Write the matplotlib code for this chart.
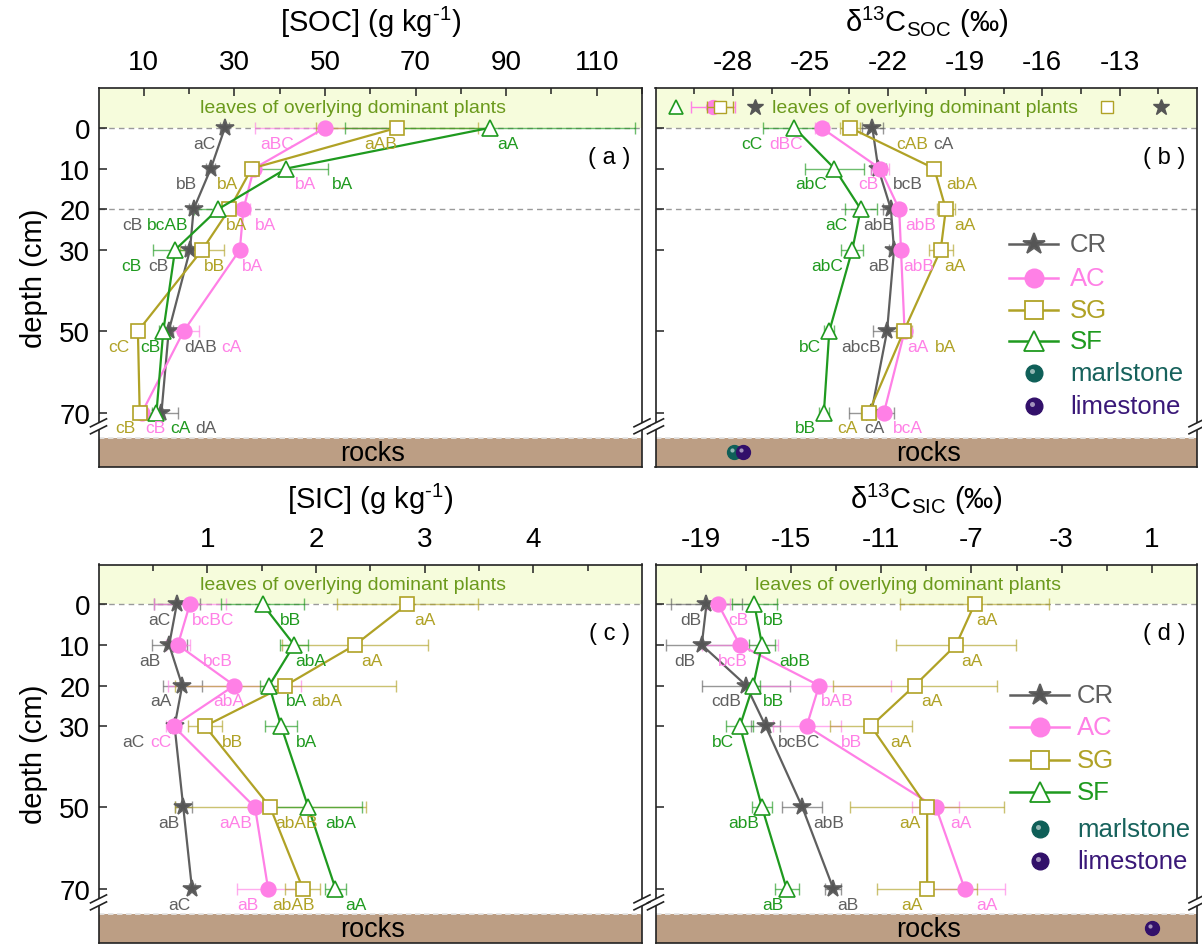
import matplotlib.pyplot as plt
from matplotlib.lines import Line2D
from matplotlib.patches import Polygon
from matplotlib import transforms

plt.rcParams['font.family'] = ['Liberation Sans', 'DejaVu Sans']
plt.rcParams['mathtext.fontset'] = 'custom'
plt.rcParams['mathtext.rm'] = 'Liberation Sans'
plt.rcParams['mathtext.it'] = 'Liberation Sans:italic'
plt.rcParams['axes.unicode_minus'] = False

depths = [0, 10, 20, 30, 50, 70]

# [SOC] (g kg-1)
soc_cr = [27.9, 24.8, 21.0, 20.2, 15.5, 13.9]
soc_ac = [50.0, 34.3, 32.0, 31.2, 18.8, 9.6]
soc_sg = [65.9, 33.8, 28.9, 22.9, 8.7, 9.1]
soc_sf = [86.4, 41.5, 26.4, 16.9, 14.3, 12.8]
soc_cr_err = [1.0, 1.0, 1.0, 1.0, 1.0, 3.6]
soc_ac_err = [15.5, 1.0, 1.5, 1.0, 3.4, 1.0]
soc_sg_err = [17.8, 1.0, 1.0, 4.8, 1.0, 1.0]
soc_sf_err = [32.0, 9.2, 5.4, 4.8, 1.0, 1.0]
soc_cr_let = ['aC', 'bB', 'cB', 'cB', 'dAB', 'dA']
soc_ac_let = ['aBC', 'bA', 'bA', 'bA', 'cA', 'cB']
soc_sg_let = ['aAB', 'bA', 'bA', 'bB', 'cC', 'cB']
soc_sf_let = ['aA', 'bA', 'bcAB', 'cB', 'cB', 'cA']

# d13C of SOC (permil)
dsoc_cr = [-22.59, -22.36, -21.87, -21.75, -22.02, -22.63]
dsoc_ac = [-24.56, -22.29, -21.55, -21.48, -21.34, -22.14]
dsoc_sg = [-23.45, -20.19, -19.74, -19.94, -21.37, -22.73]
dsoc_sf = [-25.61, -24.06, -23.04, -23.37, -24.26, -24.47]
dsoc_cr_err = [0.42, 0.3, 0.3, 0.2, 0.54, 0.87]
dsoc_ac_err = [0.25, 0.35, 0.2, 0.2, 0.2, 0.2]
dsoc_sg_err = [0.4, 0.2, 0.35, 0.46, 0.3, 0.3]
dsoc_sf_err = [1.22, 1.13, 0.62, 0.42, 0.2, 0.2]
dsoc_cr_let = ['cA', 'bcB', 'abB', 'aB', 'abcB', 'cA']
dsoc_ac_let = ['dBC', 'cB', 'abB', 'abB', 'aA', 'bcA']
dsoc_sg_let = ['cAB', 'abA', 'aA', 'aA', 'bA', 'cA']
dsoc_sf_let = ['cC', 'abC', 'aC', 'abC', 'bC', 'bB']
# leaves of the dominant plants
leaf_cr = [-27.14, -11.38]
leaf_ac = [-28.77]
leaf_ac_err = [0.84]
leaf_sg = [-28.50, -13.49]
leaf_sg_err = [0.5, 0.0]
leaf_sf = [-30.2]
rock_marl_soc = -27.96
rock_lime_soc = -27.62

# [SIC] (g kg-1)
sic_cr = [0.72, 0.65, 0.77, 0.70, 0.78, 0.86]
sic_ac = [0.84, 0.73, 1.25, 0.69, 1.44, 1.56]
sic_sg = [2.84, 2.36, 1.72, 0.98, 1.58, 1.88]
sic_sf = [1.51, 1.80, 1.57, 1.68, 1.93, 2.18]
sic_cr_err = [0.21, 0.16, 0.18, 0.05, 0.08, 0.03]
sic_ac_err = [0.33, 0.11, 0.61, 0.07, 0.05, 0.29]
sic_sg_err = [0.65, 0.67, 1.02, 0.16, 0.88, 0.16]
sic_sf_err = [0.38, 0.13, 0.08, 0.15, 0.49, 0.10]
sic_cr_let = ['aC', 'aB', 'aA', 'aC', 'aB', 'aC']
sic_ac_let = ['bcBC', 'bcB', 'abA', 'cC', 'aAB', 'aB']
sic_sg_let = ['aA', 'aA', 'abA', 'bB', 'abAB', 'abAB']
sic_sf_let = ['bB', 'abA', 'bA', 'bA', 'abA', 'aA']

# d13C of SIC (permil)
dsic_cr = [-18.74, -18.95, -16.98, -16.12, -14.49, -13.12]
dsic_ac = [-18.22, -17.26, -13.75, -14.30, -8.57, -7.30]
dsic_sg = [-6.86, -7.68, -9.51, -11.45, -8.96, -8.96]
dsic_sf = [-16.62, -16.28, -16.67, -17.26, -16.28, -15.19]
dsic_cr_err = [1.59, 1.6, 1.95, 0.65, 0.89, 0.35]
dsic_ac_err = [0.5, 1.68, 3.2, 1.5, 1.04, 1.79]
dsic_sg_err = [3.3, 2.65, 3.64, 1.8, 3.4, 2.22]
dsic_sf_err = [1.0, 0.56, 0.3, 0.6, 0.45, 0.53]
dsic_cr_let = ['dB', 'dB', 'cdB', 'bcBC', 'abB', 'aB']
dsic_ac_let = ['cB', 'bcB', 'bAB', 'bB', 'aA', 'aA']
dsic_sg_let = ['aA', 'aA', 'aA', 'aA', 'aA', 'aA']
dsic_sf_let = ['bB', 'abB', 'bB', 'bC', 'abB', 'aB']
rock_lime_sic = 1.0

# where the significance letters sit (x, per depth)
soc_lab_x = [[23.4, 19.5, 7.4, 13.2, 22.5, 23.8],
             [39.5, 45.8, 36.9, 34.1, 29.3, 12.6],
             [62.3, 28.4, 30.4, 25.5, 4.4, 5.9],
             [90.3, 53.8, 15.2, 7.2, 11.5, 18.2]]
dsoc_lab_x = [[-19.83, -21.23, -22.35, -22.35, -23.03, -22.5],
              [-25.95, -22.73, -20.72, -20.8, -20.83, -21.23],
              [-21.03, -19.13, -19.0, -19.4, -19.77, -23.54],
              [-27.25, -24.97, -23.98, -24.33, -25.0, -25.2]]
sic_lab_x = [[0.56, 0.47, 0.57, 0.32, 0.65, 0.74],
             [1.05, 1.10, 1.20, 0.57, 1.26, 1.37],
             [3.0, 2.52, 2.10, 1.23, 1.82, 1.79],
             [1.77, 1.95, 1.82, 1.91, 2.23, 2.37]]
dsic_lab_x = [[-19.43, -19.70, -17.88, -14.64, -13.32, -12.46],
              [-17.32, -17.55, -12.93, -12.31, -7.48, -6.32],
              [-6.32, -6.97, -8.73, -10.10, -9.74, -9.63],
              [-15.76, -14.83, -15.76, -18.02, -17.09, -15.78]]

names = ['CR', 'AC', 'SG', 'SF']
colors = ['#5f5f5f', '#ff80e6', '#b0a226', '#1f9a1f']
markers = ['*', 'o', 's', '^']
msizes = [13, 10.5, 10, 12]
mfaces = ['#555555', '#ff80e6', 'white', 'white']
marl_color = '#0f5f58'
lime_color = '#32106a'
leaf_bg = '#f6fcdc'
leaf_txt = '#6b9a1c'
rock_bg = '#bc9e84'

TOP, ROCK, BOT = -9.8, 76.3, 83.4

W, H = 1202, 945
fig = plt.figure(figsize=(W / 100, H / 100), dpi=100)


def rect(l, r, t, b):
    return [l / W, 1 - b / H, (r - l) / W, (b - t) / H]


def sphere(ax, x, y, color, size=10):
    ax.plot([x], [y], 'o', color=color, ms=size, zorder=6, clip_on=False)
    hl = transforms.offset_copy(ax.transData, fig=fig, x=-2, y=2, units='dots')
    ax.plot([x], [y], 'o', color='white', alpha=0.55, ms=size * 0.3,
            mec='none', transform=hl, zorder=7, clip_on=False)


def setup(ax, xlim, major, minor, title, panel, leaf_pos, show_y, dash20):
    ax.set_xlim(*xlim)
    ax.set_ylim(BOT, TOP)
    ax.axhspan(TOP, 0, color=leaf_bg, zorder=0, lw=0)
    ax.axhspan(ROCK, BOT, color=rock_bg, zorder=0, lw=0)
    ax.axhline(0, color='#9a9a9a', ls=(0, (4, 3)), lw=1, zorder=1)
    if dash20:
        ax.axhline(20, color='#9a9a9a', ls=(0, (4, 3)), lw=1, zorder=1)
    ax.axhline(ROCK, color='#e4e4e4', ls=(0, (3, 2)), lw=1.3, zorder=1)
    ax.xaxis.tick_top()
    ax.xaxis.set_label_position('top')
    ax.set_xticks(major)
    ax.set_xticklabels([str(v) for v in major])
    ax.set_xticks(minor, minor=True)
    ax.tick_params(axis='x', which='both', direction='in', top=True, bottom=False,
                   labelsize=20, pad=9, width=1.1, color='#222222')
    ax.tick_params(axis='x', which='major', length=6)
    ax.tick_params(axis='x', which='minor', length=4)
    ax.set_yticks(depths)
    ax.tick_params(axis='y', direction='in', left=True, right=False, length=6,
                   width=1.1, labelsize=20, pad=6, labelleft=show_y, color='#222222')
    if show_y:
        ax.set_ylabel('depth (cm)', fontsize=21, labelpad=8)
    ax.set_xlabel(title, fontsize=21, labelpad=13)
    for s in ax.spines.values():
        s.set_linewidth(1.2)
        s.set_color('#222222')
    yt = transforms.blended_transform_factory(ax.transAxes, ax.transData)
    ax.text(leaf_pos, TOP / 2, 'leaves of overlying dominant plants', color=leaf_txt,
            fontsize=14, ha='center', va='center', transform=yt, zorder=5)
    ax.text(0.505, (ROCK + BOT) / 2, 'rocks', fontsize=19.5, ha='center', va='center',
            transform=yt, zorder=5)
    ax.text(0.94, 0.818, '( %s )' % panel, fontsize=17, ha='center', va='center',
            transform=ax.transAxes)


def profiles(ax, series, errs, letters, lab_x):
    for i in range(4):
        ax.errorbar(series[i], depths, xerr=errs[i], fmt='none', ecolor=colors[i],
                    elinewidth=1, capsize=4, capthick=1, alpha=0.65, zorder=2)
        ax.plot(series[i], depths, color=colors[i], lw=1.6, marker=markers[i],
                ms=msizes[i], mfc=mfaces[i], mec=colors[i], mew=1.2, zorder=3 + i * 0.1)
        for d, t, x in zip(depths, letters[i], lab_x[i]):
            ax.text(x, d + 3.8, t, color=colors[i], fontsize=12.5, ha='center',
                    va='center', zorder=5)


def legend(ax, x0, x1, xt, xs, rows):
    for i in range(4):
        y = rows[i]
        ax.plot([x0, x1], [y, y], color=colors[i], lw=1.8, zorder=6)
        ax.plot([(x0 + x1) / 2], [y], marker=markers[i], ms=msizes[i] * 1.25,
                mfc=mfaces[i], mec=colors[i], mew=1.3, zorder=7)
        ax.text(xt, y, names[i], color=colors[i], fontsize=18.5, va='center', zorder=7)
    sphere(ax, xs, rows[4], marl_color, 12)
    ax.text(xt, rows[4], 'marlstone', color='#17625c', fontsize=18.5, va='center')
    sphere(ax, xs, rows[5], lime_color, 12)
    ax.text(xt, rows[5], 'limestone', color='#3a1878', fontsize=18.5, va='center')


def breaks(ax):
    # "//" axis break marks on both vertical spines, just above the rocks
    bb = ax.get_position()
    cy = (bb.y0 + bb.height * (BOT - 73.4) / (BOT - TOP)) * H
    for xa in (bb.x0, bb.x1):
        cx = xa * W
        dx, dy, gap = 8, 4, 3.5
        pts = [(cx - dx, cy - dy - gap), (cx + dx, cy + dy - gap),
               (cx + dx, cy + dy + gap), (cx - dx, cy - dy + gap)]
        fig.add_artist(Polygon([(px / W, py / H) for px, py in pts], closed=True,
                               fc='white', ec='none', transform=fig.transFigure, zorder=10))
        for s in (-gap, gap):
            fig.add_artist(Line2D([(cx - dx) / W, (cx + dx) / W],
                                  [(cy - dy + s) / H, (cy + dy + s) / H],
                                  color='#222222', lw=1.2, transform=fig.transFigure,
                                  zorder=11))


ax_a = fig.add_axes(rect(98.5, 642, 89, 468))
ax_b = fig.add_axes(rect(655.5, 1197, 89, 468))
ax_c = fig.add_axes(rect(98.5, 642, 565.5, 944))
ax_d = fig.add_axes(rect(655.5, 1197, 565.5, 944))

setup(ax_a, (0, 120), [10, 30, 50, 70, 90, 110], [20, 40, 60, 80, 100, 120],
      '[SOC] (g kg$^{‐1}$)', 'a', 0.469, True, True)
profiles(ax_a, [soc_cr, soc_ac, soc_sg, soc_sf],
         [soc_cr_err, soc_ac_err, soc_sg_err, soc_sf_err],
         [soc_cr_let, soc_ac_let, soc_sg_let, soc_sf_let], soc_lab_x)

setup(ax_b, (-31, -10), [-28, -25, -22, -19, -16, -13],
      [-29.5, -26.5, -23.5, -20.5, -17.5, -14.5, -11.5],
      'δ$^{13}$C$_{\\rm SOC}$ (‰)', 'b', 0.497, False, True)
profiles(ax_b, [dsoc_cr, dsoc_ac, dsoc_sg, dsoc_sf],
         [dsoc_cr_err, dsoc_ac_err, dsoc_sg_err, dsoc_sf_err],
         [dsoc_cr_let, dsoc_ac_let, dsoc_sg_let, dsoc_sf_let], dsoc_lab_x)
leaf_d = TOP / 2 - 0.2
ax_b.plot(leaf_sf, [leaf_d] * len(leaf_sf), ls='none', marker='^', ms=10,
          mfc='white', mec=colors[3], mew=1.2, zorder=4)
ax_b.errorbar(leaf_ac, [leaf_d] * len(leaf_ac), xerr=leaf_ac_err, fmt='o',
              color=colors[1], ms=10, elinewidth=1, capsize=4, zorder=4)
ax_b.errorbar(leaf_sg, [leaf_d] * len(leaf_sg), xerr=leaf_sg_err, fmt='s',
              mfc='white', mec=colors[2], ecolor=colors[2], ms=9, elinewidth=1,
              capsize=4, zorder=4.2)
ax_b.plot(leaf_cr, [leaf_d] * len(leaf_cr), ls='none', marker='*', ms=12,
          color='#555555', zorder=4)
sphere(ax_b, rock_marl_soc, 79.7, marl_color)
sphere(ax_b, rock_lime_soc, 79.7, lime_color)
legend(ax_b, -17.29, -15.39, -14.92, -16.34, [28.6, 36.9, 44.7, 52.5, 60.3, 68.5])

setup(ax_c, (0, 5), [1, 2, 3, 4], [0.5, 1.5, 2.5, 3.5, 4.5],
      '[SIC] (g kg$^{‐1}$)', 'c', 0.468, True, False)
profiles(ax_c, [sic_cr, sic_ac, sic_sg, sic_sf],
         [sic_cr_err, sic_ac_err, sic_sg_err, sic_sf_err],
         [sic_cr_let, sic_ac_let, sic_sg_let, sic_sf_let], sic_lab_x)

setup(ax_d, (-21, 3), [-19, -15, -11, -7, -3, 1], [-17, -13, -9, -5, -1],
      'δ$^{13}$C$_{\\rm SIC}$ (‰)', 'd', 0.467, False, False)
profiles(ax_d, [dsic_cr, dsic_ac, dsic_sg, dsic_sf],
         [dsic_cr_err, dsic_ac_err, dsic_sg_err, dsic_sf_err],
         [dsic_cr_let, dsic_ac_let, dsic_sg_let, dsic_sf_let], dsic_lab_x)
sphere(ax_d, rock_lime_sic, 79.7, lime_color)
legend(ax_d, -5.30, -2.66, -2.31, -3.98, [22.3, 30.3, 38.3, 46.2, 55.4, 63.2])

for ax in (ax_a, ax_b, ax_c, ax_d):
    breaks(ax)

fig.savefig('out.png', dpi=100)
